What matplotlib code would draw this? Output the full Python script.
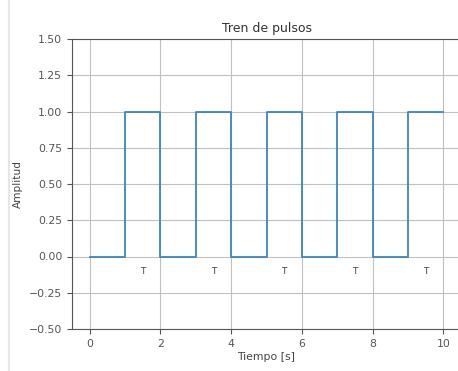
import matplotlib
matplotlib.use("Agg")
import matplotlib.pyplot as plt
from matplotlib.lines import Line2D

tiempo = [0, 1, 2, 3, 4, 5, 6, 7, 8, 9, 10]
amplitud = [0, 1, 0, 1, 0, 1, 0, 1, 0, 1, 1]
etiquetas_x = [1.5, 3.5, 5.5, 7.5, 9.5]
etiqueta_y = -0.1
etiqueta_txt = "T"
yticks = [-0.5, -0.25, 0.0, 0.25, 0.5, 0.75, 1.0, 1.25, 1.5]
xticks = [0, 2, 4, 6, 8, 10]

fig = plt.figure(figsize=(4.58, 3.71), dpi=100)
fig.add_artist(Line2D([9/458, 9/458], [0, 1], color='#e6e6e6', lw=1.5))
ax = fig.add_axes([72/458, 1-329/371, (461-72)/458, (329-39)/371])
ax.step(tiempo, amplitud, where='post', color='#3a86c0', lw=1.3)
for x in etiquetas_x:
    ax.text(x, etiqueta_y, etiqueta_txt, ha='center', va='center', fontsize=6.5, color='#444444')
ax.set_ylim(-0.5, 1.5)
ax.set_xlim(-0.5, 10.5)
ax.set_yticks(yticks)
ax.set_xticks(xticks)
ax.tick_params(labelsize=7.8, colors='#555555')
for s in ax.spines.values():
    s.set_color('#555555')
ax.grid(True, color='#c0c0c0', lw=0.8)
ax.set_title("Tren de pulsos", fontsize=9, color='#333333', pad=5)
ax.set_xlabel("Tiempo [s]", fontsize=7.8, color='#444444', labelpad=2)
ax.set_ylabel("Amplitud", fontsize=7.6, color='#444444')
fig.savefig("out.png", dpi=100)
